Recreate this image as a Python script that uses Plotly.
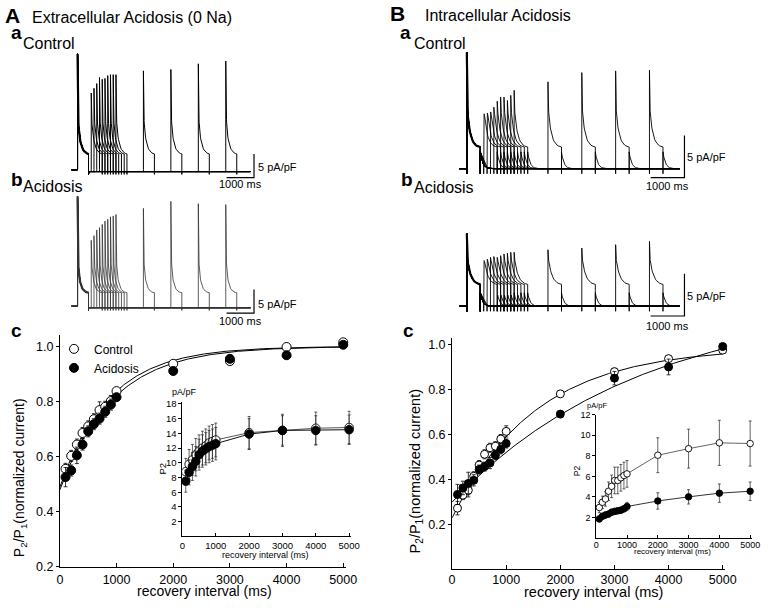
import numpy as np
import plotly.graph_objects as go

W, H = 770, 608
FONT = "Liberation Sans, Arial, Helvetica, sans-serif"

# ------------------------------------------------------------------ data
intervals = [100, 200, 300, 400, 500, 600, 700, 800, 900, 1000, 2000, 3000, 4000, 5000]

# current traces: peak amplitudes (pA/pF) of P1 and of P2 at each recovery interval
A_ctrl_P1 = 24.6
A_ctrl_P2 = [16.3, 17.3, 18.3, 19.6, 19.2, 19.4, 20.0, 20.2, 20.2, 20.2, 21.0, 21.3, 22.5, 23.1]
A_acid_P1 = 23.3
A_acid_P2 = [14.0, 15.0, 16.2, 16.7, 17.4, 18.1, 18.5, 19.0, 19.2, 19.5, 20.8, 22.3, 21.8, 21.6]
B_ctrl_P1 = 13.8
B_ctrl_P2 = [6.0, 6.3, 6.6, 7.3, 8.0, 8.5, 8.5, 8.1, 8.7, 9.3, 10.3, 11.4, 11.6, 11.7]
B_acid_P1 = 8.6
B_acid_P2 = [5.0, 5.5, 5.8, 5.9, 5.8, 6.0, 6.2, 6.3, 6.4, 6.4, 6.7, 6.9, 7.3, 7.7]

# pulse kinetics: plateau, slow amplitude, tau fast, tau slow, tail amplitude, tau tail (ms)
A_ctrl_kin = [3.2, 8.0, 12, 100, 0.0, 50]
A_acid_kin = [2.8, 7.0, 12, 90, 0.0, 50]
B_ctrl_kin = [2.5, 5.0, 9, 95, 2.0, 70]
B_acid_kin = [2.5, 3.5, 8, 110, 1.6, 70]
pulse_dur = 400

# panel c: normalized recovery P2/P1
Ac_ctrl = [0.556, 0.603, 0.644, 0.686, 0.710, 0.736, 0.769, 0.781, 0.802, 0.838, 0.937, 0.947, 0.998, 1.015]
Ac_acid = [0.526, 0.550, 0.605, 0.644, 0.692, 0.718, 0.738, 0.763, 0.789, 0.816, 0.911, 0.955, 0.968, 1.006]
Ac_ctrl_err = [0.02, 0.02, 0.02, 0.02, 0.02, 0.02, 0.03, 0.02, 0.02, 0.01, 0.01, 0.01, 0.01, 0.01]
Ac_acid_err = [0.035, 0.02, 0.03, 0.02, 0.02, 0.02, 0.02, 0.02, 0.02, 0.01, 0.01, 0.01, 0.01, 0.01]
Ac_fit_ctrl = [1.0, 0.51, 870]     # A - B*exp(-t/tau)
Ac_fit_acid = [1.0, 0.52, 930]

Bc_ctrl = [0.273, 0.331, 0.353, 0.415, 0.465, 0.513, 0.542, 0.549, 0.581, 0.615, 0.782, 0.881, 0.939, 0.977]
Bc_acid = [0.334, 0.363, 0.383, 0.397, 0.445, 0.458, 0.474, 0.509, 0.535, 0.561, 0.692, 0.852, 0.902, 0.993]
Bc_ctrl_err = [0.03, 0.02, 0.03, 0.02, 0.02, 0.02, 0.02, 0.02, 0.02, 0.025, 0.015, 0.015, 0.01, 0.01]
Bc_acid_err = [0.045, 0.03, 0.05, 0.025, 0.02, 0.02, 0.025, 0.02, 0.02, 0.02, 0.015, 0.03, 0.035, 0.01]
Bc_fit_ctrl = [0.99, 0.76, 1550]
Bc_fit_acid = [1.2, 0.9, 3525]

# insets: P2 (pA/pF)
Aci_ctrl = [8.8, 9.8, 10.4, 11.1, 11.6, 12.0, 12.3, 12.7, 12.9, 13.1, 14.1, 14.4, 14.7, 14.8]
Aci_acid = [7.5, 8.7, 9.5, 10.2, 11.1, 11.6, 11.9, 12.2, 12.4, 12.6, 13.9, 14.4, 14.4, 14.5]
Aci_ctrl_err = [1.8, 2.0, 2.1, 2.2, 2.2, 2.3, 2.3, 2.3, 2.3, 2.3, 2.2, 2.2, 2.2, 2.2]
Aci_acid_err = [1.5, 1.7, 1.9, 2.0, 2.1, 2.2, 2.2, 2.2, 2.2, 2.2, 2.1, 2.0, 2.0, 2.0]

Bci_ctrl = [2.96, 3.47, 3.79, 4.55, 5.03, 5.6, 5.6, 5.86, 6.08, 6.24, 8.06, 8.7, 9.27, 9.2]
Bci_acid = [1.85, 2.1, 2.23, 2.32, 2.5, 2.58, 2.64, 2.7, 2.83, 3.06, 3.6, 4.0, 4.36, 4.55]
Bci_ctrl_err = [0.5, 0.6, 0.7, 0.9, 1.1, 1.3, 1.3, 1.3, 1.3, 1.3, 1.7, 1.9, 2.2, 2.2]
Bci_acid_err = [0.3, 0.3, 0.3, 0.3, 0.3, 0.3, 0.3, 0.3, 0.3, 0.4, 0.8, 0.7, 0.9, 0.9]

# ------------------------------------------------------------------ helpers
def dx(p0, p1):
    return [p0 / W, p1 / W]

def dy(top, bottom):
    return [1 - bottom / H, 1 - top / H]

def decay(tt, peak, kin):
    p_inf, s, tf, ts = kin[0], kin[1], kin[2], kin[3]
    return p_inf + (peak - p_inf - s) * np.exp(-tt / tf) + s * np.exp(-tt / ts)

def tail(tt, kin, level):
    return level + kin[4] * np.exp(-tt / kin[5])

def sweeps(P1, P2s, kin, level, dip_on, dip_off, t0=-220, t_end=6300):
    xs, ys = [], []
    tt = np.concatenate([[0], np.geomspace(1, pulse_dur, 45)])
    for iv, p2 in zip(intervals, P2s):
        x = [t0, 0, 0]
        y = [0, 0, dip_on]
        x += list(tt); y += list(decay(tt, P1, kin))
        x += [pulse_dur]; y += [dip_off]
        s2 = pulse_dur + iv
        tg = np.linspace(0, iv, 25)
        x += list(pulse_dur + tg); y += list(tail(tg, kin, level))
        x += [s2]; y += [dip_on]
        x += list(s2 + tt); y += list(decay(tt, p2, kin))
        e2 = s2 + pulse_dur
        x += [e2]; y += [dip_off]
        tg2 = np.concatenate([np.linspace(0, 400, 30), [t_end - e2]])
        x += list(e2 + tg2); y += list(tail(tg2, kin, level))
        xs += x + [None]; ys += y + [None]
    return xs, ys

def p1_only(P1, kin):
    tt = np.concatenate([[0], np.geomspace(1, pulse_dur, 45)])
    return list(tt), list(decay(tt, P1, kin))

fig = go.Figure()

# ------------------------------------------------------------------ trace panels
trace_panels = [
    (1, A_ctrl_P1, A_ctrl_P2, A_ctrl_kin, -0.4, 0.0, -1.0, "black", 1.0),
    (2, A_acid_P1, A_acid_P2, A_acid_kin, -0.3, 0.0, -0.9, "#333333", 0.8),
    (3, B_ctrl_P1, B_ctrl_P2, B_ctrl_kin, 0.0, -0.6, -0.6, "black", 0.9),
    (4, B_acid_P1, B_acid_P2, B_acid_kin, 0.0, -0.6, -0.6, "black", 0.9),
]
for ax, P1, P2s, kin, lvl, don, doff, col, lw in trace_panels:
    xs, ys = sweeps(P1, P2s, kin, lvl, don, doff)
    sfx = "" if ax == 1 else str(ax)
    fig.add_trace(go.Scatter(x=xs, y=ys, mode="lines", line=dict(color=col, width=lw),
                             xaxis="x" + sfx, yaxis="y" + sfx, showlegend=False, hoverinfo="skip"))
    px_, py_ = p1_only(P1, kin)
    fig.add_trace(go.Scatter(x=px_, y=py_, mode="lines", line=dict(color=col, width=2.2),
                             xaxis="x" + sfx, yaxis="y" + sfx, showlegend=False, hoverinfo="skip"))

geo = {
    1: dict(ox=76, oy=168.0, sx=0.028, sy=4.8, box=(62, 262, 40, 182), bar_lo=-1.67),
    2: dict(ox=76, oy=307.3, sx=0.028, sy=4.8, box=(62, 262, 185, 320), bar_lo=-1.46),
    3: dict(ox=473, oy=167.0, sx=0.0345, sy=8.6, box=(458, 700, 40, 182), bar_lo=-1.05),
    4: dict(ox=473, oy=307.3, sx=0.0345, sy=8.6, box=(458, 700, 190, 322), bar_lo=-1.16),
}
layout_axes = {}
for ax, g in geo.items():
    x0, x1, yt, yb = g["box"]
    xr = [(x0 - g["ox"]) / g["sx"], (x1 - g["ox"]) / g["sx"]]
    yr = [(g["oy"] - yb) / g["sy"], (g["oy"] - yt) / g["sy"]]
    sfx = "" if ax == 1 else str(ax)
    layout_axes["xaxis" + sfx] = dict(domain=dx(x0, x1), range=xr, visible=False, anchor="y" + sfx, fixedrange=True)
    layout_axes["yaxis" + sfx] = dict(domain=dy(yt, yb), range=yr, visible=False, anchor="x" + sfx, fixedrange=True)
    t_end_bar = (256 - g["ox"]) / g["sx"] if ax <= 2 else (695 - g["ox"]) / g["sx"]
    lo = g["bar_lo"]
    fig.add_trace(go.Scatter(x=[t_end_bar - 1000, t_end_bar, t_end_bar], y=[lo, lo, lo + 5],
                             mode="lines", line=dict(color="black", width=1.2),
                             xaxis="x" + sfx, yaxis="y" + sfx, showlegend=False, hoverinfo="skip"))

# ------------------------------------------------------------------ panel c
def fit_curve(p):
    t = np.linspace(0, 5000, 250)
    return t, p[0] - p[1] * np.exp(-t / p[2])

def main_panel(xa, ya, ctrl, acid, cerr, aerr, fc, fa, msize, legend):
    for p in (fc, fa):
        t, y = fit_curve(p)
        fig.add_trace(go.Scatter(x=t, y=y, mode="lines", line=dict(color="black", width=1),
                                 xaxis=xa, yaxis=ya, showlegend=False, hoverinfo="skip"))
    fig.add_trace(go.Scatter(x=intervals, y=ctrl, mode="markers", name="Control",
                             marker=dict(symbol="circle", size=msize, color="white",
                                         line=dict(color="black", width=1)),
                             error_y=dict(type="data", array=cerr, color="black", thickness=0.8, width=2),
                             xaxis=xa, yaxis=ya, showlegend=legend, cliponaxis=False))
    fig.add_trace(go.Scatter(x=intervals, y=acid, mode="markers", name="Acidosis",
                             marker=dict(symbol="circle", size=msize, color="black",
                                         line=dict(color="black", width=1)),
                             error_y=dict(type="data", array=aerr, color="black", thickness=0.8, width=2),
                             xaxis=xa, yaxis=ya, showlegend=legend, cliponaxis=False))

def inset_panel(xa, ya, ctrl, acid, cerr, aerr, msize, lcol_c, lcol_a):
    fig.add_trace(go.Scatter(x=intervals, y=ctrl, mode="lines+markers",
                             line=dict(color=lcol_c, width=1),
                             marker=dict(symbol="circle", size=msize, color="white",
                                         line=dict(color="black", width=0.9)),
                             error_y=dict(type="data", array=cerr, color="#222222", thickness=0.7, width=1.5),
                             xaxis=xa, yaxis=ya, showlegend=False, cliponaxis=False))
    fig.add_trace(go.Scatter(x=intervals, y=acid, mode="lines+markers",
                             line=dict(color=lcol_a, width=1),
                             marker=dict(symbol="circle", size=msize, color="black",
                                         line=dict(color="black", width=0.9)),
                             error_y=dict(type="data", array=aerr, color="#222222", thickness=0.7, width=1.5),
                             xaxis=xa, yaxis=ya, showlegend=False, cliponaxis=False))

main_panel("x5", "y5", Ac_ctrl, Ac_acid, Ac_ctrl_err, Ac_acid_err, Ac_fit_ctrl, Ac_fit_acid, 9, True)
inset_panel("x6", "y6", Aci_ctrl, Aci_acid, Aci_ctrl_err, Aci_acid_err, 8.5, "#555555", "#111111")
main_panel("x7", "y7", Bc_ctrl, Bc_acid, Bc_ctrl_err, Bc_acid_err, Bc_fit_ctrl, Bc_fit_acid, 8, False)
inset_panel("x8", "y8", Bci_ctrl, Bci_acid, Bci_ctrl_err, Bci_acid_err, 6.5, "#666666", "#333333")

def axis(dom, rng, tickvals, anchor, fs, ticks="outside", ticklen=4, fmt=None, standoff=0):
    d = dict(domain=dom, range=rng, tickvals=tickvals, anchor=anchor, showline=True, linecolor="black",
             linewidth=1, ticks=ticks, ticklen=ticklen, tickwidth=1, tickcolor="black",
             showgrid=False, zeroline=False, fixedrange=True, ticklabelstandoff=standoff,
             tickfont=dict(family=FONT, size=fs, color="black"))
    if fmt:
        d["tickformat"] = fmt
    return d

xt = [0, 1000, 2000, 3000, 4000, 5000]
layout_axes["xaxis5"] = axis(dx(58, 350), [0, 5000 * 292 / 289], xt, "y5", 12.5, ticks="inside", ticklen=4, standoff=1)
layout_axes["yaxis5"] = axis(dy(337, 573.3), [0.2, 0.2 + 236.3 / 281.25], [0.2, 0.4, 0.6, 0.8, 1.0], "x5", 12.5, ticklen=3, fmt=".1f")
layout_axes["xaxis6"] = axis(dx(183, 355), [0, 5000 * 172 / 170], xt, "y6", 9.5, ticks="inside", ticklen=3)
layout_axes["yaxis6"] = axis(dy(405, 542), [0, 137 / 7.5], list(range(2, 19, 2)), "x6", 9.5, ticklen=3)
layout_axes["xaxis7"] = axis(dx(458, 736), [0, 5000 * 278 / 276], xt, "y7", 12.5, ticks="inside", ticklen=4, standoff=-1)
layout_axes["yaxis7"] = axis(dy(340, 575.8), [0, 235.8 / 229], [0.2, 0.4, 0.6, 0.8, 1.0], "x7", 12.5, ticklen=3, fmt=".1f")
layout_axes["xaxis8"] = axis(dx(605, 764), [0, 5000 * 159 / 157], xt, "y8", 9, ticks="inside", ticklen=3, standoff=-2)
layout_axes["yaxis8"] = axis(dy(418, 543.6), [0, 125.6 / 10.46], [2, 4, 6, 8, 10, 12], "x8", 9, ticklen=3)

# ------------------------------------------------------------------ text
ann = []
def txt(text, px, py, size, xanchor="left", bold=False, angle=0):
    ann.append(dict(text=f"<b>{text}</b>" if bold else text, x=px / W, y=1 - py / H,
                    xref="paper", yref="paper", showarrow=False, xanchor=xanchor, yanchor="middle",
                    textangle=angle, font=dict(family=FONT, size=size, color="black")))

txt("A", 0, 11, 21, bold=True)
txt("Extracellular Acidosis (0 Na)", 28, 13, 16)
txt("a", 6, 28, 19, bold=True)
txt("Control", 18, 39, 16)
txt("b", 6, 178, 19, bold=True)
txt("Acidosis", 18, 185, 16)
txt("c", 6, 332, 19, bold=True)
txt("B", 393, 9, 21, bold=True)
txt("Intracellular Acidosis", 428, 11, 16)
txt("a", 403, 28, 19, bold=True)
txt("Control", 417, 39, 16)
txt("b", 404, 178, 19, bold=True)
txt("Acidosis", 417, 186, 16)
txt("c", 406, 332, 19, bold=True)

txt("5 pA/pF", 258, 165, 11)
txt("1000 ms", 242, 183, 11, xanchor="center")
txt("5 pA/pF", 258, 305, 11)
txt("1000 ms", 242, 322, 11, xanchor="center")
txt("5 pA/pF", 696, 155, 11)
txt("1000 ms", 678, 185, 11, xanchor="center")
txt("5 pA/pF", 696, 297, 11)
txt("1000 ms", 678, 327, 11, xanchor="center")

txt("recovery interval (ms)", 205, 598, 14, xanchor="center")
txt("P<sub>2</sub>/P<sub>1</sub>(normalized current)", 18, 482, 14, xanchor="center", angle=-90)
txt("recovery interval (ms)", 602, 599, 14.5, xanchor="center")
txt("P<sub>2</sub>/P<sub>1</sub>(normalized current)", 421, 476, 14.5, xanchor="center", angle=-90)
txt("pA/pF", 185, 395, 9, xanchor="center")
txt("P2", 163, 473, 9.5, xanchor="center", angle=-90)
txt("recovery interval (ms)", 268, 561, 9, xanchor="center")
txt("pA/pF", 606, 409, 7.5, xanchor="center")
txt("P2", 585, 475, 8.5, xanchor="center", angle=-90)
txt("recovery interval (ms)", 683, 558, 8, xanchor="center")

fig.update_layout(
    width=W, height=H, margin=dict(l=0, r=0, t=0, b=0),
    paper_bgcolor="white", plot_bgcolor="white",
    font=dict(family=FONT, color="black"),
    annotations=ann,
    showlegend=True,
    legend=dict(x=52 / W, y=1 - 336 / H, xanchor="left", yanchor="top",
                bgcolor="rgba(0,0,0,0)", font=dict(family=FONT, size=12, color="black"),
                tracegroupgap=0, itemwidth=30),
    **layout_axes,
)

fig.write_html("out.html", config={"displayModeBar": False},
               post_script="document.body.style.margin='0';document.body.style.overflow='hidden';")
